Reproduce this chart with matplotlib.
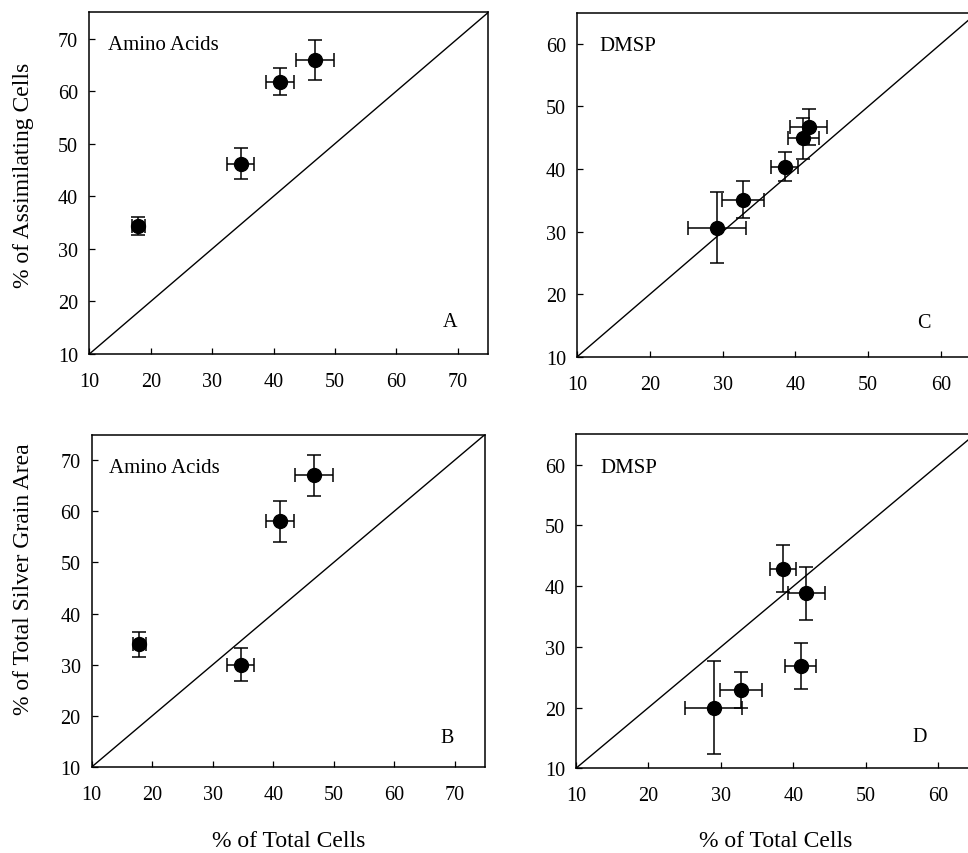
import matplotlib
matplotlib.use("Agg")
import matplotlib.pyplot as plt

plt.rcParams['font.family'] = ['Liberation Serif', 'DejaVu Serif']

# panel A: amino acids, assimilating cells
a_x = [18.0, 34.7, 41.0, 46.7]
a_xerr = [1.0, 2.2, 2.3, 3.1]
a_y = [34.3, 46.2, 61.8, 66.0]
a_yerr = [1.7, 2.9, 2.6, 3.8]

# panel B: amino acids, silver grain area
b_x = [17.9, 34.6, 41.1, 46.75]
b_xerr = [1.05, 2.2, 2.3, 3.15]
b_y = [34.0, 30.0, 58.0, 67.0]
b_yerr = [2.4, 3.25, 4.0, 4.0]

# panel C: DMSP, assimilating cells
c_x = [29.2, 32.8, 38.5, 41.1, 41.8]
c_xerr = [4.0, 2.9, 1.8, 2.1, 2.6]
c_y = [30.6, 35.1, 40.4, 44.9, 46.7]
c_yerr = [5.7, 3.0, 2.3, 3.3, 2.9]

# panel D: DMSP, silver grain area
d_x = [29.0, 32.8, 38.5, 41.8, 41.0]
d_xerr = [3.9, 2.9, 1.8, 2.6, 2.1]
d_y = [20.0, 22.9, 42.9, 38.8, 26.9]
d_yerr = [7.7, 3.0, 3.9, 4.4, 3.8]

amino_ticks = [10, 20, 30, 40, 50, 60, 70]
dmsp_ticks = [10, 20, 30, 40, 50, 60]

fig = plt.figure(figsize=(9.68, 8.54), dpi=100)

# axes placed by pixel measurements; right-hand panels run past the figure edge
axA = fig.add_axes([0.0923, 0.5843, 0.4122, 0.4001])
axB = fig.add_axes([0.0947, 0.1007, 0.4063, 0.3893])
axC = fig.add_axes([0.5964, 0.5812, 0.4131, 0.4028])
axD = fig.add_axes([0.5950, 0.0992, 0.4119, 0.3909])

panels = [
    (axA, a_x, a_xerr, a_y, a_yerr, 75, amino_ticks, 'Amino Acids', (13.1, 68.1), 'A', (68.8, 15.4)),
    (axB, b_x, b_xerr, b_y, b_yerr, 75, amino_ticks, 'Amino Acids', (12.9, 67.6), 'B', (68.8, 14.8)),
    (axC, c_x, c_xerr, c_y, c_yerr, 65, dmsp_ticks, 'DMSP', (13.1, 59.0), 'C', (57.7, 14.8)),
    (axD, d_x, d_xerr, d_y, d_yerr, 65, dmsp_ticks, 'DMSP', (13.3, 58.8), 'D', (57.4, 14.5)),
]

for ax, x, xe, y, ye, top, ticks, name, name_pos, letter, letter_pos in panels:
    ax.plot([10, top], [10, top], color='black', lw=1.0, zorder=1)
    ax.errorbar(x, y, xerr=xe, yerr=ye, fmt='o', color='black', ms=10,
                elinewidth=1.1, capsize=4.7, capthick=1.1, zorder=3)
    ax.set_xlim(10, top)
    ax.set_ylim(10, top)
    ax.set_xticks(ticks)
    ax.set_yticks(ticks)
    ax.tick_params(direction='in', length=4.5, width=0.9, labelsize=14.5)
    ax.tick_params(axis='x', pad=13)
    ax.tick_params(axis='y', pad=8)
    for s in ax.spines.values():
        s.set_linewidth(1.1)
    ax.text(name_pos[0], name_pos[1], name, fontsize=15, ha='left', va='baseline')
    ax.text(letter_pos[0], letter_pos[1], letter, fontsize=14.5, ha='center', va='baseline')

axA.set_ylabel('% of Assimilating Cells', fontsize=17)
axA.yaxis.set_label_coords(-0.139, 0.527)
axB.set_ylabel('% of Total Silver Grain Area', fontsize=17)
axB.yaxis.set_label_coords(-0.147, 0.567)
axB.set_xlabel('% of Total Cells', fontsize=17, labelpad=19)
axD.set_xlabel('% of Total Cells', fontsize=17, labelpad=17.5)

fig.savefig('out.png', dpi=100)
